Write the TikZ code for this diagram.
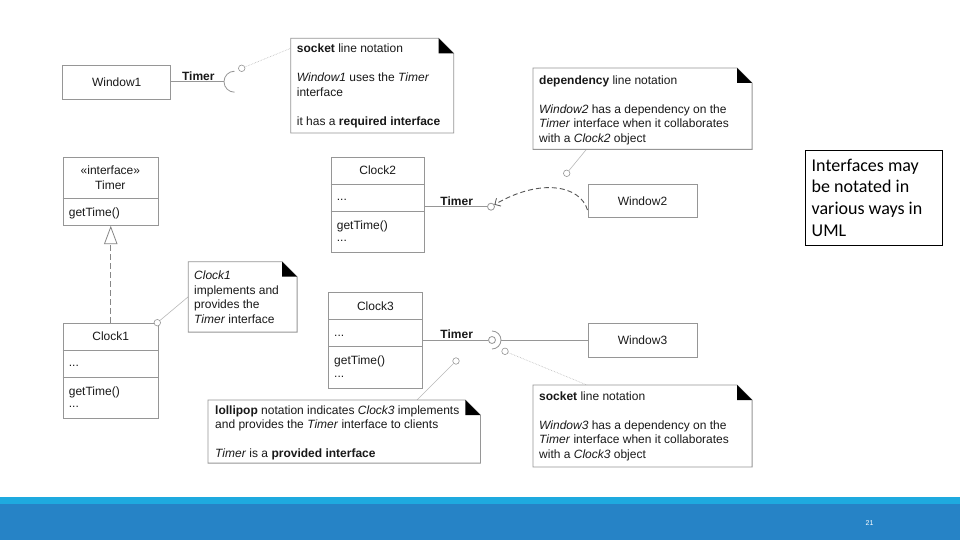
\documentclass[tikz,border=0pt]{standalone}
\usepackage{fontspec}
\setmainfont{Liberation Sans}
\newfontfamily\calibfont{Carlito}
\usetikzlibrary{arrows.meta,calc}
\definecolor{boxc}{RGB}{150,150,150}
\definecolor{txtc}{RGB}{25,25,25}
\definecolor{pinc}{RGB}{185,185,185}
\definecolor{depc}{RGB}{85,85,85}
\definecolor{realc}{RGB}{135,135,135}
\definecolor{footlight}{RGB}{30,170,223}
\definecolor{footdark}{RGB}{38,131,198}
\newcommand\umlnote[1]{%
  \draw[notebd] (#1.north west) -- ($(#1.north east)+(-15,0)$) -- ($(#1.north east)+(0,15)$) -- (#1.south east) -- (#1.south west) -- cycle;
  \fill[black] ($(#1.north east)+(-15,0)$) -- ($(#1.north east)+(0,15)$) -- ($(#1.north east)+(-15,15)$) -- cycle;}
% name, left x, top y, label, width
\newcommand\umlclass[5]{%
  \node[box,minimum width=#5pt,minimum height=95.5pt,anchor=north west] (#1) at (#2,#3) {};
  \node[f,anchor=base] (#1-l) at ($(#1.north)+(0,18)$) {#4};
  \draw[sep] ($(#1.north west)+(0,27.5)$) -- ($(#1.north east)+(0,27.5)$);
  \node[f,anchor=base west] (#1-a) at ($(#1.north west)+(6,44)$) {...};
  \draw[sep] ($(#1.north west)+(0,54.5)$) -- ($(#1.north east)+(0,54.5)$);
  \node[f,anchor=base west] (#1-o) at ($(#1.north west)+(6,72.5)$) {getTime()};
  \node[f,anchor=base west] (#1-b) at ($(#1.north west)+(6,85)$) {...};}
\begin{document}
\begin{tikzpicture}[x=1pt,y=-1pt,
  box/.style={draw=boxc,line width=0.8pt,inner sep=0,fill=white},
  sep/.style={draw=boxc,line width=0.8pt},
  f/.style={font=\fontsize{12}{14.5}\selectfont,text=txtc,inner sep=0},
  lbl/.style={f,font=\fontsize{12}{14.5}\selectfont\bfseries,anchor=base},
  notearea/.style={draw=none,inner sep=0},
  notebd/.style={draw=boxc,line width=0.8pt,fill=white},
  pin/.style={circle,draw=boxc,fill=white,line width=0.6pt,minimum size=6.5pt,inner sep=0},
  lolli/.style={circle,draw=boxc,fill=white,line width=0.8pt,minimum size=7pt,inner sep=0},
  pinline/.style={draw=pinc,line width=0.6pt},
  conn/.style={draw=boxc,line width=0.8pt},
  real/.style={draw=realc,line width=1.2pt,dash pattern=on 6pt off 3pt,-{Triangle[open,length=18.3pt,width=13.4pt,line width=0.8pt]}},
  dep/.style={draw=depc,line width=0.9pt,dash pattern=on 5pt off 3pt,-{Straight Barb[length=4.5pt,width=9pt,line width=0.8pt]}},
  notetext/.style={f,anchor=north west,align=left}]
\useasboundingbox (0,0) rectangle (960,540);
\fill[white] (0,0) rectangle (960,540);

% ---------- Window1 with socket ----------
\node[box,f,minimum width=108pt,minimum height=34.3pt] (w1) at (116.7,82.2) {Window1};
\coordinate (s1) at (234.5,81.7);
\coordinate (s1w) at (224,81.7);
\draw[conn] (w1.east |- s1w) -- (s1w);
\draw[conn] ($(s1)+(0,-10.5)$) arc[start angle=90,end angle=270,radius=10.5pt];
\node[lbl] (t1) at (198.3,80.2) {Timer};
\node[pin] (p1) at (241.7,68.3) {};
\coordinate (n1a) at (290.7,48.3);
\draw[pinline,densely dotted] (p1) -- (n1a);
\node[notearea,minimum width=162.6pt,minimum height=94.4pt,anchor=north west] (n1) at (290.7,38.3) {};
\umlnote{n1}
\node[notetext] (n1t) at (296.7,43.7) {\textbf{socket} line notation\\[14.5pt]\textit{Window1} uses the \textit{Timer}\\interface\\[14.5pt]it has a \textbf{required interface}};

% ---------- Timer interface and Clock1 ----------
\node[box,minimum width=95.3pt,minimum height=68.3pt,anchor=north west] (tif) at (62.7,156.7) {};
\node[f,anchor=base] (tif1) at (110.35,175) {«interface»};
\node[f,anchor=base] (tif2) at (110.35,189.2) {Timer};
\draw[sep] ($(tif.north west)+(0,41.6)$) -- ($(tif.north east)+(0,41.6)$);
\node[f,anchor=base west] (tif3) at (68.7,216.3) {getTime()};

\umlclass{cl1}{62.7}{322.7}{Clock1}{95.3}
\draw[real] (cl1.north) -- (tif.south);
\node[pin] (p3) at (157.3,322.7) {};
\coordinate (n3a) at (188.3,296.7);
\draw[pinline] (p3) -- (n3a);
\node[notearea,minimum width=108.4pt,minimum height=70pt,anchor=north west] (n3) at (188.3,261.7) {};
\umlnote{n3}
\node[notetext] (n3t) at (194,270.8) {\textit{Clock1}\\implements and\\provides the\\\textit{Timer} interface};

% ---------- Clock2 / Window2 dependency ----------
\umlclass{cl2}{330.7}{156.7}{Clock2}{93.3}
\node[lolli] (lp2) at (491,206.7) {};
\draw[conn] (cl2.east |- lp2) -- (lp2);
\node[lbl] (t2) at (456.7,205.2) {Timer};
\node[box,f,minimum width=109pt,minimum height=33.4pt] (w2) at (642.5,201) {Window2};
\coordinate (d1) at (587.5,210);
\coordinate (dc1) at (580,185);
\coordinate (dc2) at (540,178);
\draw[dep] (d1) .. controls (dc1) and (dc2) .. (lp2);
\node[pin] (p2) at (566.7,173.3) {};
\coordinate (n2a) at (586.7,149);
\draw[pinline] (p2) -- (n2a);
\node[notearea,minimum width=218.7pt,minimum height=81pt,anchor=north west] (n2) at (533,68) {};
\umlnote{n2}
\node[notetext] (n2t) at (539,75.4) {\textbf{dependency} line notation\\[14.5pt]\textit{Window2} has a dependency on the\\\textit{Timer} interface when it collaborates\\with a \textit{Clock2} object};

% ---------- Clock3 / Window3 lollipop + socket ----------
\umlclass{cl3}{328}{292}{Clock3}{94}
\node[lolli] (lp3) at (492,340) {};
\draw[conn] (cl3.east |- lp3) -- (lp3);
\draw[conn] ($(lp3)+(0,9)$) arc[start angle=-90,end angle=90,radius=9pt];
\coordinate (s3e) at (501,340);
\node[box,f,minimum width=109pt,minimum height=34pt] (w3) at (642.5,340) {Window3};
\draw[conn] (s3e) -- (w3.west |- s3e);
\node[lbl] (t3) at (456.7,338.5) {Timer};

\node[pin] (p5) at (456,361) {};
\coordinate (n4a) at (417,400);
\draw[pinline] (p5) -- (n4a);
\node[notearea,minimum width=272pt,minimum height=62.7pt,anchor=north west] (n4) at (208,400) {};
\umlnote{n4}
\node[notetext] (n4t) at (215,405.3) {\textbf{lollipop} notation indicates \textit{Clock3} implements\\and provides the \textit{Timer} interface to clients\\[14.5pt]\textit{Timer} is a \textbf{provided interface}};

\node[pin] (p4) at (505,351.3) {};
\coordinate (n5a) at (587,385);
\draw[pinline,densely dotted] (p4) -- (n5a);
\node[notearea,minimum width=218.7pt,minimum height=81.5pt,anchor=north west] (n5) at (533,385) {};
\umlnote{n5}
\node[notetext] (n5t) at (539,391.4) {\textbf{socket} line notation\\[14.5pt]\textit{Window3} has a dependency on the\\\textit{Timer} interface when it collaborates\\with a \textit{Clock3} object};

% ---------- side text box ----------
\node[draw=black,line width=0.8pt,minimum width=137pt,minimum height=95pt,anchor=north west,inner sep=0] (tb) at (804.5,150) {};
\node[anchor=north west,align=left,inner sep=0,font=\calibfont\fontsize{18}{21.7}\selectfont] (tbt) at (811.5,158.5) {Interfaces may\\be notated in\\various ways in\\UML};

% ---------- footer ----------
\fill[footlight] (0,497.3) rectangle (960,504);
\fill[footdark] (0,504) rectangle (960,540);
\node[text=white,inner sep=0,font=\fontsize{7}{8}\selectfont] (pg) at (869.6,523.5) {21};
\end{tikzpicture}
\end{document}
